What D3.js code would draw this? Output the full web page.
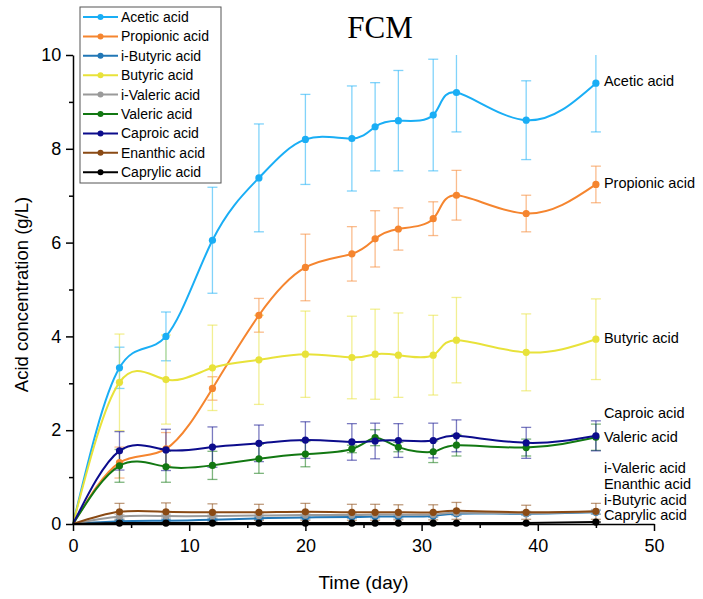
<!DOCTYPE html>
<meta charset="utf-8">
<style>
body { margin: 0; background: #fff; }
text { font-family: "Liberation Sans", Arial, sans-serif; }
</style>
<body>
<script src="https://d3js.org/d3.v7.min.js"></script>
<script>

// sampling days
var days = [0, 4, 8, 12, 16, 20, 24, 26, 28, 31, 33, 39, 45];

// mean concentrations (g/L) and their errors
var acetic      = [0, 3.33, 4.00, 6.05, 7.38, 8.20, 8.22, 8.47, 8.60, 8.72, 9.20, 8.61, 9.40];
var aceticErr   = [0, 0.44, 0.52, 1.13, 1.15, 0.96, 1.12, 0.94, 1.07, 1.19, 0.84, 0.84, 1.04];
var propionic   = [0, 1.31, 1.60, 2.89, 4.45, 5.47, 5.76, 6.08, 6.29, 6.51, 7.01, 6.62, 7.24];
var propionicErr= [0, 0.33, 0.35, 0.25, 0.36, 0.71, 0.58, 0.60, 0.45, 0.36, 0.53, 0.39, 0.39];
var iButyric    = [0, 0.06, 0.07, 0.09, 0.12, 0.14, 0.15, 0.16, 0.16, 0.17, 0.22, 0.22, 0.25];
var iButyricErr = [0, 0.03, 0.03, 0.03, 0.03, 0.03, 0.03, 0.03, 0.03, 0.03, 0.04, 0.03, 0.04];
var butyric     = [0, 3.02, 3.08, 3.33, 3.50, 3.62, 3.55, 3.62, 3.60, 3.60, 3.92, 3.66, 3.94];
var butyricErr  = [0, 1.03, 0.95, 0.91, 0.95, 0.92, 0.88, 0.96, 0.90, 0.85, 0.91, 0.82, 0.86];
var iValeric    = [0, 0.16, 0.17, 0.17, 0.18, 0.19, 0.19, 0.20, 0.20, 0.20, 0.24, 0.23, 0.26];
var iValericErr = [0, 0.04, 0.04, 0.04, 0.04, 0.04, 0.04, 0.04, 0.04, 0.04, 0.05, 0.04, 0.05];
var valeric     = [0, 1.24, 1.22, 1.25, 1.39, 1.49, 1.60, 1.84, 1.64, 1.54, 1.68, 1.63, 1.85];
var valericErr  = [0, 0.35, 0.33, 0.30, 0.31, 0.27, 0.08, 0.17, 0.10, 0.23, 0.23, 0.18, 0.28];
var caproic     = [0, 1.56, 1.58, 1.64, 1.72, 1.79, 1.75, 1.77, 1.78, 1.78, 1.88, 1.73, 1.88];
var caproicErr  = [0, 0.41, 0.44, 0.43, 0.39, 0.39, 0.39, 0.38, 0.36, 0.37, 0.34, 0.33, 0.32];
var enanthic    = [0, 0.26, 0.26, 0.25, 0.25, 0.26, 0.25, 0.25, 0.25, 0.25, 0.28, 0.25, 0.27];
var enanthicErr = [0, 0.18, 0.19, 0.18, 0.17, 0.18, 0.17, 0.17, 0.16, 0.16, 0.18, 0.15, 0.17];
var caprylic    = [0, 0.02, 0.02, 0.02, 0.02, 0.02, 0.02, 0.02, 0.02, 0.02, 0.02, 0.02, 0.04];
var caprylicErr = [0, 0.01, 0.01, 0.01, 0.01, 0.01, 0.01, 0.01, 0.01, 0.01, 0.01, 0.01, 0.01];

var names  = ["Acetic acid", "Propionic acid", "i-Butyric acid", "Butyric acid", "i-Valeric acid",
              "Valeric acid", "Caproic acid", "Enanthic acid", "Caprylic acid"];
var colors = ["#1aaef5", "#f5852f", "#2277b6", "#e8e23a", "#9a9a9a",
              "#127812", "#0c0c8c", "#8a4a14", "#000000"];
var values = [acetic, propionic, iButyric, butyric, iValeric, valeric, caproic, enanthic, caprylic];
var errors = [aceticErr, propionicErr, iButyricErr, butyricErr, iValericErr, valericErr, caproicErr, enanthicErr, caprylicErr];

// where the end labels sit, in g/L (small acids are spread apart)
var labelAt = [9.45, 7.27, 0.51, 3.97, 1.20, 1.86, 2.36, 0.85, 0.19];

var xTicks = [0, 10, 20, 30, 40, 50];
var yTicks = [0, 2, 4, 6, 8, 10];

var margin = {top: 55, right: 49, bottom: 75, left: 73},
    width = 703 - margin.left - margin.right,
    height = 599 - margin.top - margin.bottom;

var x = d3.scaleLinear().domain([0, 50]).range([0, width]);
var y = d3.scaleLinear().domain([0, 10]).range([height, 0]);

var svg = d3.select("body").append("svg")
    .attr("width", 703)
    .attr("height", 599);

var g = svg.append("g")
    .attr("transform", "translate(" + margin.left + "," + margin.top + ")");

svg.append("defs").append("clipPath").attr("id", "clip")
  .append("rect")
    .attr("x", -20).attr("y", 0)
    .attr("width", width + 40).attr("height", height + 20);

var series = names.map(function(n, i) {
  return {
    name: n, color: colors[i], label: labelAt[i],
    points: days.map(function(d, j) { return {t: d, v: values[i][j], e: errors[i][j]}; })
  };
});

var line = d3.line()
    .x(function(d) { return x(d.t); })
    .y(function(d) { return y(d.v); })
    .curve(d3.curveNatural);

var plot = g.append("g").attr("clip-path", "url(#clip)");

// error bars
series.forEach(function(s) {
  var eb = plot.append("g")
      .attr("stroke", s.color)
      .attr("stroke-opacity", 0.55)
      .attr("stroke-width", 1.3);
  var pts = s.points.filter(function(d) { return d.t > 0; });
  eb.selectAll(".v").data(pts).enter().append("line")
      .attr("x1", function(d) { return x(d.t); })
      .attr("x2", function(d) { return x(d.t); })
      .attr("y1", function(d) { return y(d.v - d.e); })
      .attr("y2", function(d) { return y(d.v + d.e); });
  eb.selectAll(".top").data(pts).enter().append("line")
      .attr("x1", function(d) { return x(d.t) - 5; })
      .attr("x2", function(d) { return x(d.t) + 5; })
      .attr("y1", function(d) { return y(d.v + d.e); })
      .attr("y2", function(d) { return y(d.v + d.e); });
  eb.selectAll(".bot").data(pts).enter().append("line")
      .attr("x1", function(d) { return x(d.t) - 5; })
      .attr("x2", function(d) { return x(d.t) + 5; })
      .attr("y1", function(d) { return y(d.v - d.e); })
      .attr("y2", function(d) { return y(d.v - d.e); });
});

// lines and markers
series.forEach(function(s) {
  plot.append("path")
      .datum(s.points)
      .attr("fill", "none")
      .attr("stroke", s.color)
      .attr("stroke-width", 2)
      .attr("d", line);
  plot.selectAll(null)
      .data(s.points.filter(function(d) { return d.t > 0; }))
    .enter().append("circle")
      .attr("cx", function(d) { return x(d.t); })
      .attr("cy", function(d) { return y(d.v); })
      .attr("r", 3.6)
      .attr("fill", s.color);
});

// end labels
g.selectAll(".endlabel")
    .data(series)
  .enter().append("text")
    .attr("x", x(45) + 8)
    .attr("y", function(d) { return y(d.label); })
    .attr("dy", "0.35em")
    .style("font-size", "14.5px")
    .text(function(d) { return d.name; });

// axes
var xAxis = g.append("g")
    .attr("transform", "translate(0," + height + ")")
    .call(d3.axisBottom(x).tickValues(xTicks).tickSize(7).tickSizeOuter(0));
g.append("g")
    .attr("transform", "translate(0," + height + ")")
    .call(d3.axisBottom(x).tickValues([5, 15, 25, 35, 45]).tickSize(4).tickFormat("").tickSizeOuter(0))
    .select(".domain").remove();

var yAxis = g.append("g")
    .call(d3.axisLeft(y).tickValues(yTicks).tickSize(7).tickSizeOuter(0));
g.append("g")
    .call(d3.axisLeft(y).tickValues([1, 3, 5, 7, 9]).tickSize(4).tickFormat("").tickSizeOuter(0))
    .select(".domain").remove();

g.selectAll(".domain, .tick line").attr("stroke", "#000").attr("stroke-width", 1.5);
xAxis.selectAll(".tick text").style("font-size", "18px").attr("dy", "1.0em");
yAxis.selectAll(".tick text").style("font-size", "18px").attr("dx", "-0.1em");

svg.append("text")
    .attr("x", margin.left + width / 2)
    .attr("y", 589)
    .attr("text-anchor", "middle")
    .style("font-size", "19px")
    .text("Time (day)");

svg.append("text")
    .attr("transform", "translate(28," + (margin.top + height / 2 + 5) + ") rotate(-90)")
    .attr("text-anchor", "middle")
    .style("font-size", "18.5px")
    .text("Acid concentration (g/L)");

svg.append("text")
    .attr("x", 380)
    .attr("y", 38)
    .attr("text-anchor", "middle")
    .style("font-family", "'Liberation Serif', 'Times New Roman', serif")
    .style("font-size", "31px")
    .text("FCM");

// legend
var legend = svg.append("g").attr("transform", "translate(80,7)");
legend.append("rect")
    .attr("width", 141).attr("height", 176)
    .attr("fill", "#fff")
    .attr("stroke", "#555")
    .attr("stroke-width", 1);
var item = legend.selectAll(".item")
    .data(series)
  .enter().append("g")
    .attr("transform", function(d, i) { return "translate(0," + (10 + i * 19.4) + ")"; });
item.append("line")
    .attr("x1", 3).attr("x2", 38)
    .attr("stroke", function(d) { return d.color; })
    .attr("stroke-width", 2);
item.append("circle")
    .attr("cx", 20.5).attr("r", 3)
    .attr("fill", function(d) { return d.color; });
item.append("text")
    .attr("x", 41)
    .attr("dy", "0.35em")
    .style("font-size", "14px")
    .text(function(d) { return d.name; });

</script>
</body>
